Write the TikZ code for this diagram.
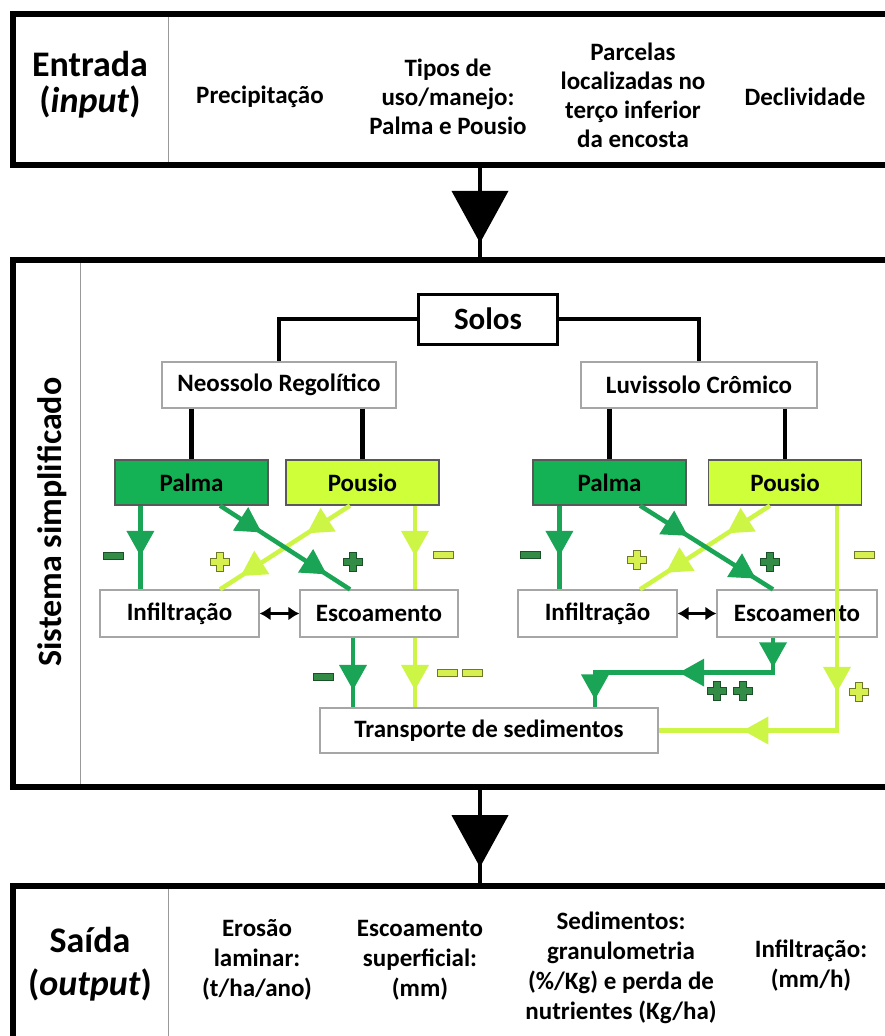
\documentclass[tikz,border=0pt]{standalone}
\usepackage{fontspec}
\setmainfont{Carlito}
\usetikzlibrary{arrows.meta, decorations.markings}

\definecolor{verdepalma}{RGB}{20,178,85}
\definecolor{verdepousio}{RGB}{206,255,56}
\definecolor{linhapalma}{RGB}{25,165,85}
\definecolor{linhapousio}{RGB}{205,245,70}
\definecolor{sinalpalma}{RGB}{50,140,70}
\definecolor{bordapalma}{RGB}{25,80,40}
\definecolor{sinalpousio}{RGB}{215,240,80}
\definecolor{bordapousio}{RGB}{110,120,40}

\begin{document}
\begin{tikzpicture}[x=1pt, y=-1pt,
	every node/.style={font=\bfseries\fontsize{25}{29}\selectfont},
	moldura/.style={draw, line width=6pt, outer sep=0pt, inner sep=0pt, anchor=north west, minimum width=935pt},
	divisa/.style={draw=gray!80, line width=1pt, shorten <=3pt, shorten >=3pt},
	titulo/.style={align=center, inner sep=0pt, font=\bfseries\fontsize{36}{36}\selectfont},
	texto/.style={align=center, inner sep=0pt},
	caixa/.style={draw=gray!70, line width=1.2pt, fill=white, inner sep=0pt, minimum height=47pt},
	uso/.style={caixa, draw=black!65, minimum width=153pt, minimum height=45pt},
	ligacao/.style={line width=4.5pt},
	fluxo/.style={line width=4.5pt},
	dupla/.style={line width=3pt, arrows={Latex[length=11pt,width=14pt]-Latex[length=11pt,width=14pt]}},
	ponta/.style={postaction={decorate, decoration={markings, mark=at position #1 with {\arrow{Triangle[length=25pt,width=28pt,line width=0pt]}}}}},
	pontagrande/.style={postaction={decorate, decoration={markings, mark=at position #1 with {\arrow{Triangle[length=52pt,width=57pt,line width=0pt]}}}}},
	menos/.pic={\filldraw[line width=1pt] (-10,-3.5) rectangle (10,3.5);},
	mais/.pic={\filldraw[line width=1pt] (-3.5,-9.5) -- (3.5,-9.5) -- (3.5,-3.5) -- (9.5,-3.5) -- (9.5,3.5) -- (3.5,3.5) -- (3.5,9.5) -- (-3.5,9.5) -- (-3.5,3.5) -- (-9.5,3.5) -- (-9.5,-3.5) -- (-3.5,-3.5) -- cycle;},
	escuro/.style={fill=sinalpalma, draw=bordapalma},
	claro/.style={fill=sinalpousio, draw=bordapousio},
]
\useasboundingbox (0,0) rectangle (885,1036);

% molduras
\node[moldura, minimum height=151.5pt] (entrada) at (12.5,13.5) {};
\node[moldura, minimum height=527pt] (sistema) at (12.5,260) {};
\node[moldura, minimum height=200pt] (saida) at (12.5,886) {};
\draw[divisa] ([xshift=155.5pt]entrada.north west) -- ([xshift=155.5pt]entrada.south west);
\draw[divisa] ([xshift=67.5pt]sistema.north west) -- ([xshift=67.5pt]sistema.south west);
\draw[divisa] ([xshift=155.5pt]saida.north west) -- ([xshift=155.5pt]saida.south west);
\draw[ligacao, pontagrande=0.82] (entrada.south) -- (sistema.north);
\draw[ligacao, pontagrande=0.81] (sistema.south) -- (saida.north);

% entrada
\node[titulo] (rotentrada) at (90,85) {Entrada\\(\textit{input})};
\node[texto] (precipitacao) at (260,97) {Precipitação};
\node[texto] (tipos) at (448,97) {Tipos de\\uso/manejo:\\Palma e Pousio};
\node[texto] (parcelas) at (633,95) {Parcelas\\localizadas no\\terço inferior\\da encosta};
\node[texto] (declividade) at (805,97) {Declividade};

% sistema
\node[titulo, font=\bfseries\fontsize{34}{34}\selectfont, rotate=90] (rotsistema) at (52,522) {Sistema simplificado};
\node[caixa, draw=black, line width=3pt, minimum width=139pt, minimum height=50pt, font=\bfseries\fontsize{31}{31}\selectfont] (solos) at (488,319) {Solos};
\node[caixa, minimum width=234pt, minimum height=46pt] (neossolo) at (279,385) {Neossolo Regolítico};
\node[caixa, minimum width=236pt, minimum height=46pt] (luvissolo) at (699,385) {Luvissolo Crômico};
\node[uso, fill=verdepalma] (palmaA) at (191.5,482.5) {Palma};
\node[uso, fill=verdepousio] (pousioA) at (362.5,482.5) {Pousio};
\node[uso, fill=verdepalma] (palmaB) at (609.5,482.5) {Palma};
\node[uso, fill=verdepousio] (pousioB) at (785,482.5) {Pousio};
\node[caixa, minimum width=159pt] (infA) at (179.5,613.5) {Infiltração};
\node[caixa, minimum width=158pt] (escA) at (379,613.5) {Escoamento};
\node[caixa, minimum width=159pt] (infB) at (597.5,613.5) {Infiltração};
\node[caixa, minimum width=160pt] (escB) at (797,613.5) {Escoamento};
\node[caixa, minimum width=338pt, minimum height=45pt] (transp) at (489,730.5) {Transporte de sedimentos};

\draw[ligacao] (solos.west) -| (neossolo.north);
\draw[ligacao] (solos.east) -| (luvissolo.north);
\draw[ligacao] (neossolo.south -| palmaA.north) -- (palmaA.north);
\draw[ligacao] (neossolo.south -| pousioA.north) -- (pousioA.north);
\draw[ligacao] (luvissolo.south -| palmaB.north) -- (palmaB.north);
\draw[ligacao] (luvissolo.south -| pousioB.north) -- (pousioB.north);

% Neossolo
\draw[fluxo, linhapalma, ponta=0.6] ([xshift=26pt]palmaA.south west) -- ([xshift=26pt]palmaA.south west |- infA.north);
\draw[fluxo, linhapousio, ponta=0.33, ponta=0.84] ([xshift=-12.5pt]pousioA.south) -- ([xshift=40.5pt]infA.north);
\draw[fluxo, linhapalma, ponta=0.32, ponta=0.82] ([xshift=28.5pt]palmaA.south) -- ([xshift=-29pt]escA.north);
\draw[fluxo, linhapousio, ponta=0.6] ([xshift=52.5pt]pousioA.south) -- ([xshift=52.5pt]pousioA.south |- escA.north);
\draw[fluxo, linhapalma, ponta=0.75] ([xshift=-26pt]escA.south) -- ([xshift=-26pt]escA.south |- transp.north);
\draw[fluxo, linhapousio, ponta=0.75] ([xshift=36pt]escA.south) -- ([xshift=36pt]escA.south |- transp.north);
\draw[dupla] (infA.east) -- (escA.west);

% Luvissolo
\draw[fluxo, linhapalma, ponta=0.6] ([xshift=27pt]palmaB.south west) -- ([xshift=27pt]palmaB.south west |- infB.north);
\draw[fluxo, linhapousio, ponta=0.33, ponta=0.8] ([xshift=-15pt]pousioB.south) -- ([xshift=42.5pt]infB.north);
\draw[fluxo, linhapalma, ponta=0.36, ponta=0.87] ([xshift=30.5pt]palmaB.south) -- ([xshift=-24pt]escB.north);
\draw[fluxo, linhapousio, ponta=0.462, ponta=0.79] ([xshift=52pt]pousioB.south) |- (transp.east);
\draw[fluxo, linhapalma, ponta=0.12, ponta=0.52, ponta=0.968] ([xshift=-24pt]escB.south) -- ++(0,35) -| ([xshift=106pt]transp.north);
\draw[dupla] (infB.east) -- (escB.west);

% sinais
\pic[escuro] at (113,556) {menos};
\pic[claro] at (220,562) {mais};
\pic[escuro] at (353,562) {mais};
\pic[claro] at (443,555) {menos};
\pic[escuro] at (323,677) {menos};
\pic[claro] at (447,673) {menos};
\pic[claro] at (472,673) {menos};
\pic[escuro] at (530,555) {menos};
\pic[claro] at (637,560) {mais};
\pic[escuro] at (770,562) {mais};
\pic[claro] at (864,555) {menos};
\pic[escuro] at (717,691) {mais};
\pic[escuro] at (743,691) {mais};
\pic[claro] at (859,692) {mais};

% saida
\node[titulo, font=\bfseries\fontsize{36}{43}\selectfont] (rotsaida) at (90,964) {Saída\\(\textit{output})};
\node[texto, font=\bfseries\fontsize{25}{30}\selectfont] (erosao) at (257,960) {Erosão\\laminar:\\(t/ha/ano)};
\node[texto, font=\bfseries\fontsize{25}{30}\selectfont] (escsup) at (420,960) {Escoamento\\superficial:\\(mm)};
\node[texto, font=\bfseries\fontsize{25}{30}\selectfont] (sedimentos) at (621,968) {Sedimentos:\\granulometria\\(\%/Kg) e perda de\\nutrientes (Kg/ha)};
\node[texto, font=\bfseries\fontsize{25}{30}\selectfont] (infsaida) at (811,966) {Infiltração:\\(mm/h)};
\end{tikzpicture}
\end{document}
